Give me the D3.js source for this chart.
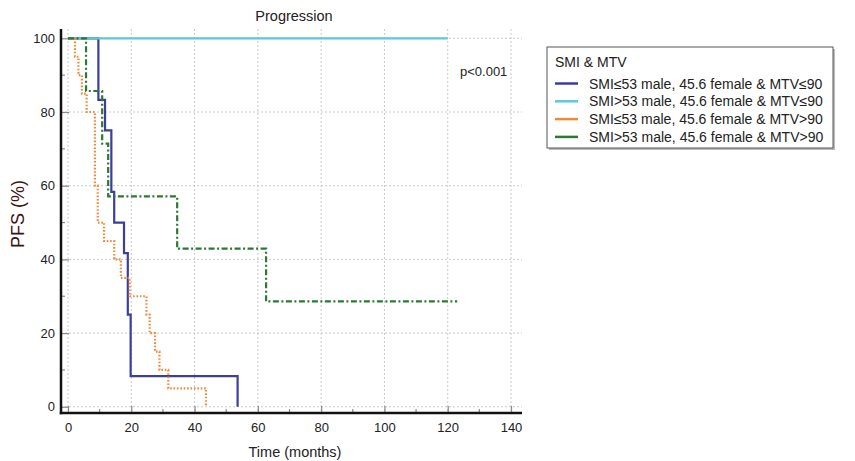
<!DOCTYPE html>
<html>
<head>
<meta charset="utf-8">
<script src="https://cdn.jsdelivr.net/npm/d3@7/dist/d3.min.js"></script>
<style>
  html, body { margin: 0; padding: 0; background: #fff; }
  svg { display: block; font-family: "Liberation Sans", Arial, sans-serif; }
</style>
</head>
<body>
<svg id="chart" width="855" height="461"></svg>
<script>
// Kaplan-Meier progression-free survival by SMI & MTV group
const seriesNames = [
  "SMI≤53 male, 45.6 female & MTV≤90",
  "SMI>53 male, 45.6 female & MTV≤90",
  "SMI≤53 male, 45.6 female & MTV>90",
  "SMI>53 male, 45.6 female & MTV>90"
];
const seriesColors = ["#3d3d9c", "#5cc9da", "#f08a3a", "#2b7a32"];

// event times (months) and survival (%) for each group
const blueTimes   = [0, 9.6, 11.7, 13.7, 14.6, 17.7, 18.9, 19.8, 53.6];
const blueSurv    = [100, 83.3, 75, 58.3, 50, 41.7, 25, 8.3, 0];
const cyanTimes   = [0, 120];
const cyanSurv    = [100, 100];
const orangeTimes = [0, 2.2, 3.3, 4.4, 5.9, 8.5, 9.4, 11.4, 14.6, 16.7, 19.5, 24.8, 25.8, 27.5, 28.9, 31.7, 43.6];
const orangeSurv  = [100, 95, 90, 85, 80, 60, 50, 45, 40, 35, 30, 25, 20, 15, 10, 5, 0];
const greenTimes  = [0, 5.7, 10.8, 12.7, 34.5, 62.6, 123];
const greenSurv   = [100, 85.7, 71.4, 57.1, 42.9, 28.6, 28.6];

const xTicks = [0, 20, 40, 60, 80, 100, 120, 140];
const yTicks = [0, 20, 40, 60, 80, 100];
const xMinor = [10, 30, 50, 70, 90, 110, 130];
const yMinor = [10, 30, 50, 70, 90];

const svg = d3.select("#chart");
const x = d3.scaleLinear().domain([0, 140]).range([68, 511]);
const y = d3.scaleLinear().domain([0, 100]).range([406.8, 38.3]);
const frame = { left: 61, right: 522, top: 29, bottom: 413 };

// grid
const grid = svg.append("g").attr("stroke", "#c9c9c9").attr("stroke-width", 1).attr("stroke-dasharray", "2,2");
grid.selectAll("line.v").data(xTicks).join("line")
  .attr("x1", d => x(d)).attr("x2", d => x(d))
  .attr("y1", frame.top).attr("y2", frame.bottom);
grid.selectAll("line.h").data(yTicks).join("line")
  .attr("x1", frame.left).attr("x2", frame.right)
  .attr("y1", d => y(d)).attr("y2", d => y(d));

// axes with inward ticks
const xAxis = svg.append("g").attr("transform", `translate(0,${frame.bottom})`)
  .call(d3.axisBottom(x).tickValues(xTicks).tickSize(-7).tickPadding(10));
const yAxis = svg.append("g").attr("transform", `translate(${frame.left},0)`)
  .call(d3.axisLeft(y).tickValues(yTicks).tickSize(-8).tickPadding(6));
[xAxis, yAxis].forEach(a => {
  a.select(".domain").remove();
  a.selectAll(".tick line").attr("stroke", "#8a8a8a").attr("stroke-width", 1.2);
  a.selectAll(".tick text").attr("font-size", 13).attr("fill", "#222")
    .attr("font-family", "'Liberation Sans', Arial, sans-serif");
});
svg.append("g").selectAll("line").data(xMinor).join("line")
  .attr("x1", d => x(d)).attr("x2", d => x(d))
  .attr("y1", frame.bottom).attr("y2", frame.bottom - 4)
  .attr("stroke", "#8a8a8a").attr("stroke-width", 1.2);
svg.append("g").selectAll("line").data(yMinor).join("line")
  .attr("x1", frame.left).attr("x2", frame.left + 4)
  .attr("y1", d => y(d)).attr("y2", d => y(d))
  .attr("stroke", "#8a8a8a").attr("stroke-width", 1.2);

// axis lines
svg.append("line").attr("x1", frame.left).attr("x2", frame.left)
  .attr("y1", frame.top).attr("y2", frame.bottom + 1.2)
  .attr("stroke", "#111").attr("stroke-width", 2.5);
svg.append("line").attr("x1", frame.left - 1.2).attr("x2", frame.right)
  .attr("y1", frame.bottom).attr("y2", frame.bottom)
  .attr("stroke", "#111").attr("stroke-width", 2.5);

// survival curves
const series = [
  { t: blueTimes, s: blueSurv, dash: null },
  { t: cyanTimes, s: cyanSurv, dash: null },
  { t: orangeTimes, s: orangeSurv, dash: "1.6,1.8" },
  { t: greenTimes, s: greenSurv, dash: "6,2.5,2,2.5" }
];
const line = d3.line().x(d => x(d[0])).y(d => y(d[1])).curve(d3.curveStepAfter);
series.forEach((ser, i) => {
  const pts = ser.t.map((t, k) => [t, ser.s[k]]);
  svg.append("path").datum(pts)
    .attr("d", line)
    .attr("fill", "none")
    .attr("stroke", seriesColors[i])
    .attr("stroke-width", 2.2)
    .attr("stroke-dasharray", ser.dash);
});

// titles
svg.append("text").attr("x", 294).attr("y", 21).attr("text-anchor", "middle")
  .attr("font-size", 14.5).attr("fill", "#222").text("Progression");
svg.append("text").attr("x", 295).attr("y", 457).attr("text-anchor", "middle")
  .attr("font-size", 14.5).attr("fill", "#222").text("Time (months)");
svg.append("text").attr("transform", "translate(24,214) rotate(-90)")
  .attr("text-anchor", "middle").attr("font-size", 18).attr("fill", "#3a1515").text("PFS (%)");
svg.append("text").attr("x", 460).attr("y", 76)
  .attr("font-size", 13).attr("fill", "#222").text("p<0.001");

// legend
const lg = svg.append("g");
lg.append("rect").attr("x", 549).attr("y", 49).attr("width", 286).attr("height", 101).attr("fill", "#bbb");
lg.append("rect").attr("x", 547).attr("y", 47).attr("width", 286).attr("height", 101)
  .attr("fill", "#fff").attr("stroke", "#555").attr("stroke-width", 1);
lg.append("text").attr("x", 555).attr("y", 67).attr("font-size", 14).attr("fill", "#222").text("SMI & MTV");
seriesNames.forEach((name, i) => {
  const cy = 83.5 + i * 17.8;
  lg.append("line").attr("x1", 555).attr("x2", 578).attr("y1", cy).attr("y2", cy)
    .attr("stroke", seriesColors[i]).attr("stroke-width", 2.5);
  lg.append("text").attr("x", 589).attr("y", cy + 5).attr("font-size", 14)
    .attr("fill", "#222").text(name);
});
</script>
</body>
</html>
